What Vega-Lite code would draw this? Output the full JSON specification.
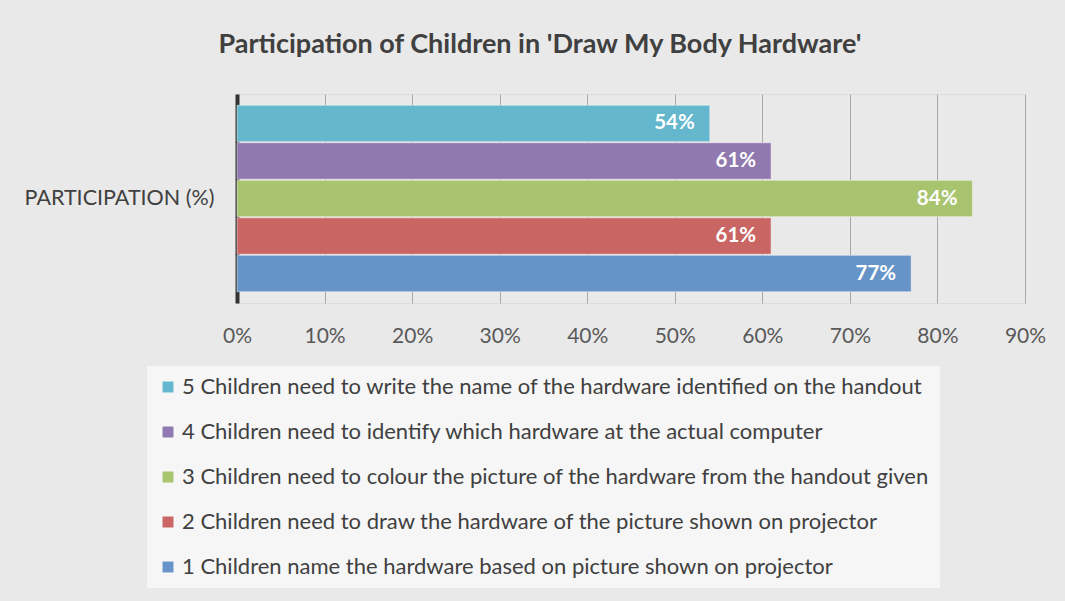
{
  "$schema": "https://vega.github.io/schema/vega-lite/v6.json",
  "width": 788,
  "height": 209,
  "autosize": "none",
  "padding": {"left": 237, "top": 94, "right": 40, "bottom": 298},
  "background": "#e9e9e9",
  "title": {
    "text": "Participation of Children in 'Draw My Body Hardware'",
    "font": "Lato",
    "fontSize": 27,
    "fontWeight": "bold",
    "color": "#404040",
    "anchor": "middle",
    "frame": "group",
    "dx": -91,
    "offset": 35
  },
  "data": {
    "values": [
      {"series": "5 Children need to write the name of the hardware identified on the handout", "category": "PARTICIPATION (%)", "value": 0.54},
      {"series": "4 Children need to identify which hardware at the actual computer", "category": "PARTICIPATION (%)", "value": 0.61},
      {"series": "3 Children need to colour the picture of the hardware from the handout given", "category": "PARTICIPATION (%)", "value": 0.84},
      {"series": "2 Children need to draw the hardware of the picture shown on projector", "category": "PARTICIPATION (%)", "value": 0.61},
      {"series": "1 Children name the hardware based on picture shown on projector", "category": "PARTICIPATION (%)", "value": 0.77}
    ]
  },
  "encoding": {
    "y": {
      "field": "series",
      "type": "nominal",
      "sort": null,
      "scale": {"paddingInner": 0.03, "paddingOuter": 0.3},
      "axis": {
        "labels": false,
        "ticks": false,
        "title": "PARTICIPATION (%)",
        "titleAngle": 0,
        "titleX": -118,
        "titleY": 104,
        "titleAlign": "center",
        "titleBaseline": "middle",
        "titleFont": "Lato",
        "titleFontSize": 21.5,
        "titleFontWeight": "normal",
        "titleColor": "#404040",
        "domainColor": "#333333",
        "domainWidth": 4,
        "grid": false
      }
    },
    "x": {
      "field": "value",
      "type": "quantitative",
      "scale": {"domain": [0, 0.9], "nice": false},
      "axis": {
        "values": [0, 0.1, 0.2, 0.3, 0.4, 0.5, 0.6, 0.7, 0.8, 0.9],
        "format": ".0%",
        "title": null,
        "domain": false,
        "ticks": false,
        "grid": true,
        "gridColor": "#a8a8a8",
        "gridWidth": 1,
        "labelFlush": false,
        "labelFont": "Lato",
        "labelFontSize": 21,
        "labelColor": "#595959",
        "labelPadding": 22
      }
    }
  },
  "layer": [
    {
      "mark": {"type": "bar", "stroke": "#ffffff", "strokeOpacity": 0.45, "strokeWidth": 1},
      "encoding": {
        "color": {
          "field": "series",
          "type": "nominal",
          "sort": null,
          "scale": {
            "domain": [
              "5 Children need to write the name of the hardware identified on the handout",
              "4 Children need to identify which hardware at the actual computer",
              "3 Children need to colour the picture of the hardware from the handout given",
              "2 Children need to draw the hardware of the picture shown on projector",
              "1 Children name the hardware based on picture shown on projector"
            ],
            "range": ["#64b7cd", "#9079af", "#a8c46f", "#c96664", "#6794c8"]
          },
          "legend": {
            "title": null,
            "orient": "none",
            "legendX": -90,
            "legendY": 272,
            "fillColor": "#f6f6f6",
            "padding": 10,
            "symbolType": "square",
            "symbolSize": 120,
            "symbolStrokeWidth": 0,
            "symbolOpacity": 1,
            "labelFont": "Lato",
            "labelFontSize": 22,
            "labelColor": "#404040",
            "labelLimit": 1000,
            "labelOffset": 3,
            "rowPadding": 23
          }
        }
      }
    },
    {
      "mark": {"type": "text", "align": "right", "baseline": "middle", "dx": -15, "font": "Lato", "fontSize": 20.5, "fontWeight": "bold", "color": "#ffffff"},
      "encoding": {
        "text": {"field": "value", "type": "quantitative", "format": ".0%"}
      }
    }
  ]
}
